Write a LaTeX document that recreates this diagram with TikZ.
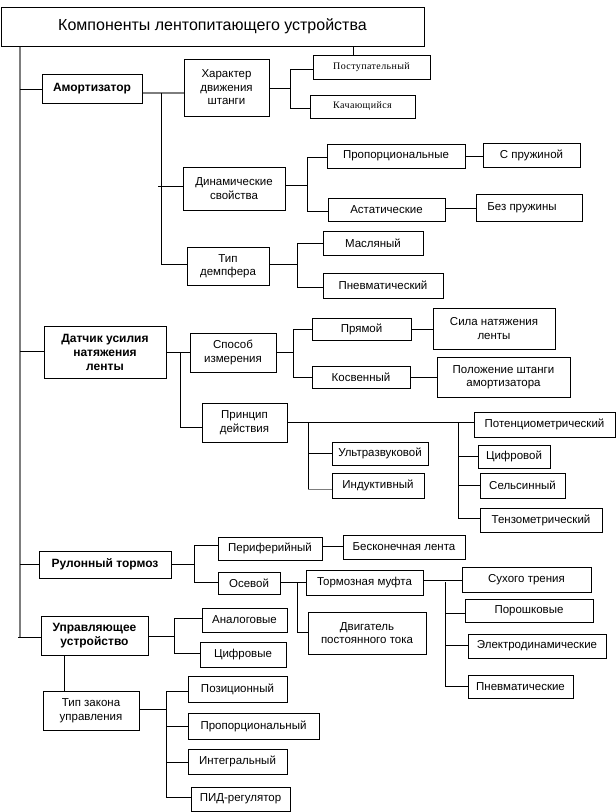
\documentclass[tikz,border=0pt]{standalone}
\usepackage{fontspec}
\setmainfont{Liberation Sans}
\newfontfamily\seriffam[LetterSpace=4]{Liberation Serif}
\definecolor{lg}{RGB}{125,125,125}
\newcommand\bx[7][]{\node[box,#1,minimum width={#5-#3},minimum height={#6-#4}] (#2) at ({(#3+#5)/2},{(#4+#6)/2}) {#7};}
\begin{document}
\begin{tikzpicture}[x=1pt,y=-1pt,
  box/.style={draw,line width=1pt,inner sep=0pt,align=center,font=\fontsize{11.5}{13.5}\selectfont},
  bbox/.style={font=\fontsize{12}{14}\selectfont\bfseries},
  sbox/.style={font=\seriffam\fontsize{10}{12}\selectfont},
  ln/.style={line width=0.8pt},
  gln/.style={line width=1.2pt,color=lg}]
\useasboundingbox (0,0) rectangle (616,812);

% title
\bx[font=\fontsize{16}{18}\selectfont]{t}{1}{7}{424}{46}{Компоненты лентопитающего устройства}

% level 1
\bx[bbox]{am}{42}{74}{142}{103}{Амортизатор}
\bx[bbox]{dat}{44}{326}{166}{378}{Датчик усилия\\натяжения\\ленты}
\bx[bbox]{rul}{39}{551}{171}{578}{Рулонный тормоз}
\bx[bbox]{upr}{41}{616}{148}{655}{Управляющее\\устройство}

% Амортизатор
\bx{har}{184}{59}{269}{116}{Характер\\движения\\штанги}
\bx{din}{183}{167}{285}{210}{Динамические\\свойства}
\bx{dem}{187}{247}{269}{285}{Тип\\демпфера}
\bx[sbox]{pos}{313}{55}{430}{79}{Поступательный}
\bx[sbox]{kach}{310}{95}{415}{118}{Качающийся}
\bx{prop}{327}{144}{465}{168}{Пропорциональные}
\bx{ast}{328}{198}{445}{221}{Астатические}
\bx{spr}{483}{143}{580}{167}{С пружиной}
\bx{bez}{476}{194}{582}{221}{Без пружины\hspace*{14pt}}
\bx{masl}{323}{231}{423}{255}{Масляный}
\bx{pnev}{323}{273}{443}{298}{Пневматический}

% Датчик
\bx{spos}{190}{333}{276}{372}{Способ\\измерения}
\bx{prin}{202}{403}{287}{442}{Принцип\\действия}
\bx{pryam}{312}{318}{411}{340}{Прямой}
\bx{kosv}{312}{366}{410}{388}{Косвенный}
\bx{sila}{433}{308}{555}{349}{Сила натяжения\\ленты}
\bx{pol}{437}{357}{570}{397}{Положение штанги\\амортизатора}
\bx{pot}{474}{412}{615}{437}{Потенциометрический}
\bx{ultra}{332}{442}{428}{465}{Ультразвуковой}
\bx{ind}{332}{473}{424}{498}{Индуктивный}
\bx{cif}{478}{445}{550}{468}{Цифровой}
\bx{sel}{480}{473}{565}{498}{Сельсинный}
\bx{tenz}{480}{508}{602}{532}{Тензометрический}

% Рулонный тормоз
\bx{per}{218}{537}{322}{560}{Периферийный}
\bx{os}{218}{572}{280}{594}{Осевой}
\bx{besk}{343}{535}{465}{559}{Бесконечная лента}
\bx{torm}{306}{570}{423}{595}{Тормозная муфта}
\bx{dvig}{308}{612}{426}{654}{Двигатель\\постоянного тока}
\bx{suh}{462}{567}{591}{592}{Сухого трения}
\bx{por}{465}{599}{593}{622}{Порошковые}
\bx{el}{468}{634}{606}{658}{Электродинамические}
\bx{pnv}{468}{675}{573}{698}{Пневматические}

% Управляющее устройство
\bx{an}{202}{608}{287}{632}{Аналоговые}
\bx{cf}{200}{642}{286}{667}{Цифровые}
\bx{tip}{43}{691}{139}{730}{Тип закона\\управления}
\bx{poz}{188}{676}{287}{702}{Позиционный}
\bx{prp}{188}{713}{319}{739}{Пропорциональный}
\bx{int}{188}{749}{287}{774}{Интегральный}
\bx{pid}{191}{787}{290}{811}{ПИД-регулятор}

% ---- connectors ----
\coordinate (mtop) at (t.south -| 20,0);
\draw[gln] (mtop) -- (20,637);
\draw[ln] (20,89) -- (am.west |- 0,89);
\draw[ln] (20,351) -- (dat.west |- 0,351);
\draw[ln] (20,564) -- (rul.west |- 0,564);
\draw[ln] (18,637) -- (upr.west |- 0,637);
\draw[ln] (t.south -| 353,0) -- (pos.north -| 353,0);

% Амортизатор branch
\draw[gln] (am.east |- 0,93) -- (har.west |- 0,93);
\draw[ln] (161,93) -- (161,264) -- (dem.west |- 0,264);
\draw[ln] (158,186) -- (din.west |- 0,186);
\draw[ln] (har.east |- 0,88) -- (290,88);
\draw[ln] (pos.west |- 0,69) -- (290,69) -- (290,108) -- (kach.west |- 0,108);
\draw[ln] (din.east |- 0,185) -- (307,185);
\draw[ln] (prop.west |- 0,157) -- (307,157) -- (307,211) -- (ast.west |- 0,211);
\draw[ln] (prop.east |- 0,156) -- (spr.west |- 0,156);
\draw[ln] (ast.east |- 0,208) -- (bez.west |- 0,208);
\draw[ln] (dem.east |- 0,264) -- (297,264);
\draw[ln] (masl.west |- 0,243) -- (297,243) -- (297,287) -- (pnev.west |- 0,287);

% Датчик branch
\draw[ln] (dat.east |- 0,352) -- (spos.west |- 0,352);
\draw[ln] (177,352) -- (180,352) -- (180,427) -- (prin.west |- 0,427);
\draw[ln] (spos.east |- 0,352) -- (293,352);
\draw[ln] (pryam.west |- 0,329) -- (293,329) -- (293,377) -- (kosv.west |- 0,377);
\draw[ln] (pryam.east |- 0,329) -- (sila.west |- 0,329);
\draw[ln] (kosv.east |- 0,377) -- (pol.west |- 0,377);
\draw[ln] (prin.east |- 0,422) -- (pot.west |- 0,422);
\draw[ln] (308,422) -- (308,489);
\draw[ln] (308,453) -- (ultra.west |- 0,453);
\draw[gln,line width=0.9pt] (308,489) -- (ind.west |- 0,489);
\draw[ln] (458,422) -- (458,518) -- (tenz.west |- 0,518);
\draw[ln] (458,456) -- (cif.west |- 0,456);
\draw[ln] (458,485) -- (sel.west |- 0,485);

% Рулонный branch
\draw[ln] (rul.east |- 0,564) -- (194,564);
\draw[ln] (per.west |- 0,545) -- (194,545) -- (194,582) -- (os.west |- 0,582);
\draw[ln] (per.east |- 0,546) -- (besk.west |- 0,546);
\draw[ln] (os.east |- 0,582) -- (torm.west |- 0,582);
\draw[ln] (297,582) -- (297,632) -- (dvig.west |- 0,632);
\draw[ln] (torm.east |- 0,580) -- (suh.west |- 0,580);
\draw[ln] (445,582) -- (445,686) -- (pnv.west |- 0,686);
\draw[ln] (445,613) -- (por.west |- 0,613);
\draw[ln] (445,645) -- (el.west |- 0,645);

% Управляющее branch
\draw[ln] (upr.east |- 0,636) -- (174,636);
\draw[ln] (an.west |- 0,618) -- (174,618) -- (174,653) -- (cf.west |- 0,653);
\draw[ln] (upr.south -| 64,0) -- (tip.north -| 64,0);
\draw[ln] (tip.east |- 0,709) -- (166,709);
\draw[ln] (poz.west |- 0,691) -- (166,691) -- (166,797) -- (pid.west |- 0,797);
\draw[ln] (166,726) -- (prp.west |- 0,726);
\draw[ln] (166,762) -- (int.west |- 0,762);
\end{tikzpicture}
\end{document}
